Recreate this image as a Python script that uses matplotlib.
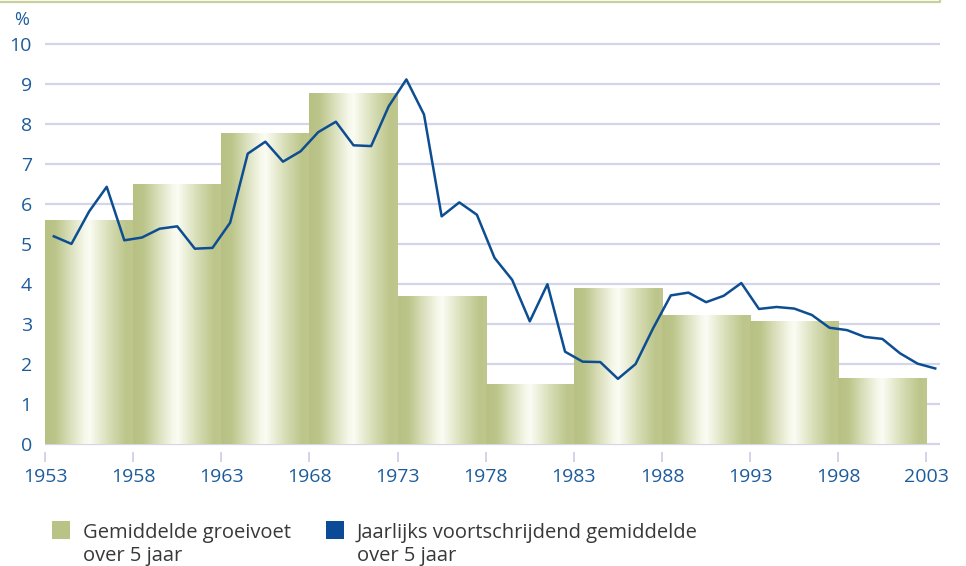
import numpy as np
import matplotlib
matplotlib.use("Agg")
import matplotlib.pyplot as plt
from matplotlib.colors import LinearSegmentedColormap
from matplotlib.patches import Rectangle
from matplotlib.lines import Line2D

plt.rcParams['font.family'] = ['Open Sans', 'DejaVu Sans']

# 5-jaars perioden en gemiddelde groeivoet
period_start = [1953, 1958, 1963, 1968, 1973, 1978, 1983, 1988, 1993, 1998]
period_len = 5
avg_growth = [5.61, 6.49, 7.78, 8.77, 3.70, 1.49, 3.90, 3.22, 3.07, 1.65]

# jaarlijks voortschrijdend gemiddelde over 5 jaar
years = list(range(1953, 2004))
moving_avg = [5.19, 5.00, 5.81, 6.43, 5.09, 5.16, 5.38, 5.44, 4.88, 4.90,
              5.53, 7.26, 7.56, 7.06, 7.32, 7.80, 8.06, 7.47, 7.45, 8.45,
              9.12, 8.24, 5.69, 6.04, 5.73, 4.65, 4.10, 3.06, 3.99, 2.30,
              2.05, 2.04, 1.62, 1.99, 2.89, 3.71, 3.78, 3.54, 3.70, 4.02,
              3.37, 3.42, 3.38, 3.22, 2.90, 2.84, 2.67, 2.62, 2.26, 2.00,
              1.88]

x_ticks = list(range(1953, 2004, 5))
y_ticks = list(range(0, 11))

label_bars = "Gemiddelde groeivoet\nover 5 jaar"
label_line = "Jaarlijks voortschrijdend gemiddelde\nover 5 jaar"

blue_txt = "#1d5c9c"
line_col = "#0d4d92"
olive = "#bac386"
grid_col = "#d3d6eb"

W, H = 966, 566
fig = plt.figure(figsize=(W / 100, H / 100), dpi=100)
ax = fig.add_axes([45 / W, (H - 445.9) / H, 895 / W, 405.6 / H])

# verloop voor de staven: olijf -> wit -> olijf
cmap = LinearSegmentedColormap.from_list("olijf", [
    (0.0, "#b8c183"), (0.12, "#bcc58a"), (0.30, "#dde2c0"), (0.44, "#f5f7e8"),
    (0.50, "#fbfcf4"), (0.58, "#eef1dc"), (0.76, "#d2d8ad"), (0.92, "#bcc58a"),
    (1.0, "#bfc78e")])
grad = np.linspace(0, 1, 256).reshape(1, -1)
for x0, h in zip(period_start, avg_growth):
    ax.imshow(grad, extent=[x0, x0 + period_len, 0, h], aspect='auto',
              cmap=cmap, interpolation='bilinear', zorder=1)

ax.plot(np.array(years) + 0.5, moving_avg, color=line_col, lw=1.8, zorder=3)

ax.set_xlim(1953, 2003.77)
ax.set_ylim(-0.06, 10.1)
ax.set_xticks(x_ticks)
ax.set_yticks(y_ticks)

ax.set_axisbelow(True)
ax.yaxis.grid(True, color=grid_col, lw=1.6)
ax.xaxis.grid(False)
for s in ax.spines.values():
    s.set_visible(False)
ax.spines['bottom'].set_position(('outward', 4.3))

ax.tick_params(axis='x', length=7.5, width=1.1, color="#c6cae3", pad=4,
               labelsize=14, labelcolor=blue_txt)
ax.tick_params(axis='y', length=0, pad=9.5, labelsize=14, labelcolor=blue_txt)

fig.text(22 / W, 1 - 20 / H, "%", ha='center', va='center', fontsize=13,
         color=blue_txt)

# lijn bovenaan
fig.add_artist(Line2D([0, 940 / W, 940 / W], [1 - 2 / H, 1 - 2 / H, 1.0],
                      transform=fig.transFigure, color="#c8d199", lw=1.6))

# legenda
sq = 18
for x_sq, col, txt in [(52, olive, label_bars), (326, "#0a4a96", label_line)]:
    fig.add_artist(Rectangle((x_sq / W, 1 - 539 / H), sq / W, sq / H,
                             transform=fig.transFigure, color=col, lw=0))
    fig.text((x_sq + 31) / W, 1 - 560.5 / H, txt, ha='left', va='baseline',
             fontsize=14.5, color="#383838", linespacing=1.15)

fig.savefig("out.png", dpi=100)
